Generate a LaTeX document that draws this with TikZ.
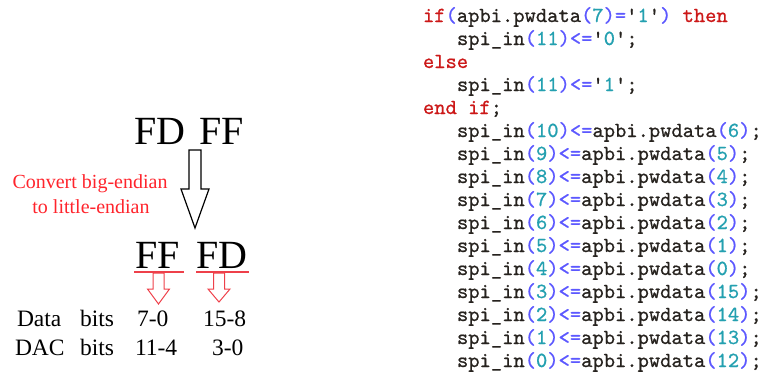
\documentclass[tikz,border=0pt]{standalone}
\usepackage{fontspec}
\setmainfont{Liberation Serif}
\newfontfamily\codefont[FakeBold=0.8]{lmmono10-regular.otf}
\usetikzlibrary{positioning}

\definecolor{kwred}{RGB}{204,24,24}
\definecolor{opblue}{RGB}{92,88,255}
\definecolor{numteal}{RGB}{36,160,176}
\definecolor{codegray}{RGB}{38,34,30}
\definecolor{noteRed}{RGB}{255,36,44}
\definecolor{markRed}{RGB}{238,64,74}

% vhdl highlighting
\newcommand{\kw}[1]{\textcolor{kwred}{#1}}
\newcommand{\op}[1]{\textcolor{opblue}{#1}}
\newcommand{\nb}[1]{\textcolor{numteal}{#1}}
\newcommand{\q}{\textquotesingle}

\begin{document}
\begin{tikzpicture}[
    x=1pt, y=-1pt,
    every node/.style={inner sep=0pt, outer sep=0pt},
    bytes/.style={anchor=base west, font=\fontsize{40}{40}\selectfont},
    note/.style={anchor=base, text=noteRed, font=\fontsize{20}{25}\selectfont},
    cell/.style={anchor=base west, font=\fontsize{23.5}{23.5}\selectfont},
    code/.style={anchor=base west, text=codegray,
        font=\codefont\fontsize{21.5}{23}\selectfont},
    hollow/.style={draw, line width=1.2pt, line join=miter},
    redhollow/.style={draw=markRed, line width=1pt, line join=miter},
    swapline/.style={draw=markRed, line width=1.6pt}
]
\useasboundingbox (0,0) rectangle (767,373);

% byte order, before and after
\node[bytes] (msb) at (134,144) {FD};
\node[bytes] (lsb) at (199,144) {FF};
\node[bytes] (lo) at (135,268) {FF};
\node[bytes] (hi) at (196,268) {FD};

\node[note] (note1) at (90,188) {Convert big-endian};
\node[note] (note2) at (91,213) {to little-endian};

% swap arrow
\draw[hollow] (189,150) -- (201,150) -- (201,189) -- (209,189)
    -- (195,228) -- (181,189) -- (189,189) -- cycle;

\draw[swapline] (lo.base west) ++(-1,4) coordinate (ulo) -- ++(50,0);
\draw[swapline] (hi.base west) ++(0,4) coordinate (uhi) -- ++(53,0);
\foreach \cx/\tip in {158.5/304, 219/302}
    \draw[redhollow] (\cx-5.5,273) -- (\cx+5.5,273) -- (\cx+5.5,289)
        -- (\cx+11,289) -- (\cx,\tip) -- (\cx-11,289) -- (\cx-5.5,289) -- cycle;

% bit mapping
\node[cell] (data) at (17,326) {Data};
\node[cell] (databits) at (80,326) {bits};
\node[cell] (datalo) at (137,326) {7-0};
\node[cell] (datahi) at (203,326) {15-8};
\node[cell] (dac) at (15,355) {DAC};
\node[cell] (dacbits) at (80,355) {bits};
\node[cell] (daclo) at (135,355) {11-4};
\node[cell] (dachi) at (212,355) {3-0};

% vhdl
\node[code] (ifline) at (423,22)
    {\kw{if}\op{(}apbi.pwdata\op{(}\nb{7}\op{)=}\q\nb{1}\q\op{)} \kw{then}};
\node[code] (set0) at (457,45) {spi\_in\op{(}\nb{11}\op{)<=}\q\nb{0}\q;};
\node[code] (elseline) at (423,68) {\kw{else}};
\node[code] (set1) at (457,91) {spi\_in\op{(}\nb{11}\op{)<=}\q\nb{1}\q;};
\node[code] (endline) at (423,114) {\kw{end if};};
\foreach \k/\m [count=\i from 0] in
    {10/6,9/5,8/4,7/3,6/2,5/1,4/0,3/15,2/14,1/13,0/12}
    \node[code] (assign\k) at (457,137+23*\i)
        {spi\_in\op{(}\nb{\k}\op{)<=}apbi.pwdata\op{(}\nb{\m}\op{)};};
\end{tikzpicture}
\end{document}
